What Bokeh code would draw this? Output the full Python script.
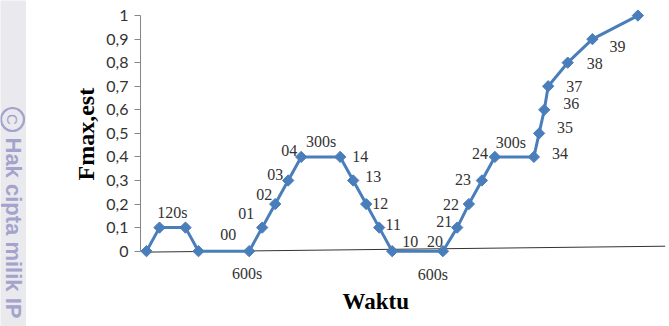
import math
from bokeh.plotting import figure
from bokeh.layouts import row
from bokeh.models import ColumnDataSource, LabelSet, Label, Title, FixedTicker, Range1d
from bokeh.embed import file_html
from bokeh.resources import INLINE

# ---- data ----
waktu = [0, 1, 3, 4, 7.9, 8.9, 9.9, 10.9, 11.9, 14.9, 15.9, 16.9, 17.9, 18.9,
         22.8, 23.9, 24.8, 25.8, 26.8, 29.8, 30.2, 30.6, 30.9, 32.4, 34.3, 37.8]
fmax_est = [0, 0.1, 0.1, 0, 0, 0.1, 0.2, 0.3, 0.4, 0.4, 0.3, 0.2, 0.1, 0,
            0, 0.1, 0.2, 0.3, 0.4, 0.4, 0.5, 0.6, 0.7, 0.8, 0.9, 1.0]
point_labels = ["", "", "", "", "00", "01", "02", "03", "04", "14", "13", "12", "11", "10",
                "20", "21", "22", "23", "24", "34", "35", "36", "37", "38", "39", ""]
span_labels = ["120s", "600s", "300s", "600s", "300s"]
span_points = [1, 4, 8, 14, 18]
y_ticks = [0, 0.1, 0.2, 0.3, 0.4, 0.5, 0.6, 0.7, 0.8, 0.9, 1]
y_tick_labels = ["0", "0,1", "0,2", "0,3", "0,4", "0,5", "0,6", "0,7", "0,8", "0,9", "1"]

# ---- label placement (screen-pixel offsets, styling only) ----
point_dx = [0, 0, 0, 0, -21, -16, -11, -13, -12, 20, 20, 14, 14, 18,
            -8, -13, -18, -19, -15, 26, 26, 27, 26, 27, 25, 0]
point_dy = [0, 0, 0, 0, 17, 14, 10, 6, 6, 0, 4, 1, 3, 10,
            10, 6, 0, 1, 3, 3, 6, 6, 0, -1, -7, 0]
span_dx = [13, -2, 20, -10, 16]
span_dy = [15, -22, 15, -23, 14]

BLUE = "#4a7ebb"
TXT = "#333333"
LABEL_FONT = "Lato"
WM_BG = "#e9e9ee"
WM_FG = "#a3a3cc"

# ---- watermark strip on the left ----
strip = figure(width=26, height=326, title=None, output_backend="svg", toolbar_location=None,
               x_range=Range1d(0, 26), y_range=Range1d(0, 326),
               x_axis_location=None, y_axis_location=None)
strip.frame_align = False
strip.min_border_left = 0
strip.min_border_right = 0
strip.min_border_top = 0
strip.min_border_bottom = 0
strip.xgrid.visible = False
strip.ygrid.visible = False
strip.outline_line_color = None
strip.background_fill_color = WM_BG
strip.border_fill_color = WM_BG
strip.scatter(x=[12], y=[207], marker="circle", size=23, fill_color=None,
              line_color=WM_FG, line_width=2.2)
strip.add_layout(Label(x=12, y=207, text="C", angle=-math.pi / 2,
                       text_align="center", text_baseline="middle",
                       text_font="Liberation Sans", text_font_size="15px", text_color=WM_FG))
strip.add_layout(Label(x=13, y=189, text="Hak cipta milik IP", angle=-math.pi / 2,
                       text_align="left", text_baseline="middle",
                       text_font="Liberation Sans", text_font_style="bold",
                       text_font_size="22px", text_color=WM_FG))

# ---- main chart ----
p = figure(width=643, height=326, output_backend="svg", toolbar_location=None,
           x_range=Range1d(-0.46, 40), y_range=Range1d(-0.15, 1.03),
           x_axis_location=None,
           min_border_left=114, min_border_right=3, min_border_top=8, min_border_bottom=40)
p.frame_align = False
p.outline_line_color = None
p.xgrid.visible = False
p.ygrid.visible = False
p.background_fill_color = "white"
p.border_fill_color = "white"

yax = p.yaxis[0]
yax.ticker = FixedTicker(ticks=y_ticks)
yax.major_label_overrides = dict(zip(y_ticks, y_tick_labels))
yax.bounds = (0, 1)
yax.axis_line_color = "#868686"
yax.major_tick_line_color = "#868686"
yax.major_tick_out = 6
yax.major_tick_in = 0
yax.minor_tick_line_color = None
yax.major_label_standoff = 6
yax.major_label_text_font = LABEL_FONT
yax.major_label_text_font_size = "16px"
yax.major_label_text_color = TXT

# slightly tilted horizontal axis line, as in the reference
p.segment(x0=[0], y0=[-0.004], x1=[39.9], y1=[0.021], line_color="#333333", line_width=1)

# data line + diamond markers
p.line(waktu, fmax_est, line_color=BLUE, line_width=3, line_join="round")
p.scatter(waktu, fmax_est, marker="square", angle=math.pi / 4, size=8,
          fill_color=BLUE, line_color=BLUE)

# data labels
lbl_x = [waktu[i] for i, t in enumerate(point_labels) if t] + [waktu[i] for i in span_points]
lbl_y = [fmax_est[i] for i, t in enumerate(point_labels) if t] + [fmax_est[i] for i in span_points]
lbl_t = [t for t in point_labels if t] + span_labels
lbl_dx = [point_dx[i] for i, t in enumerate(point_labels) if t] + span_dx
lbl_dy = [point_dy[i] for i, t in enumerate(point_labels) if t] + span_dy
src = ColumnDataSource(dict(x=lbl_x, y=lbl_y, text=lbl_t, dx=lbl_dx, dy=lbl_dy))
p.add_layout(LabelSet(x="x", y="y", text="text", x_offset="dx", y_offset="dy", source=src,
                      text_align="center", text_baseline="middle",
                      text_font=LABEL_FONT, text_font_size="16px", text_color=TXT))

# axis titles
p.add_layout(Title(text="Fmax,est", align="left", offset=106,
                   text_font="Liberation Serif", text_font_style="bold",
                   text_font_size="24px", text_color="black"), "left")
p.add_layout(Title(text="Waktu", align="left", offset=202, vertical_align="top", standoff=4,
                   text_font="Liberation Serif", text_font_style="bold",
                   text_font_size="23px", text_color="black"), "below")

layout = row(strip, p, spacing=0)
open("out.html", "w").write(file_html(layout, INLINE))
